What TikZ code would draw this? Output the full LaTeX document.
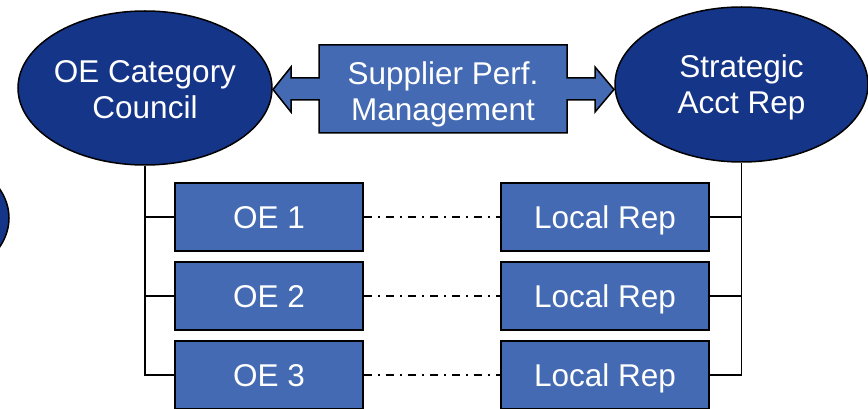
\documentclass[tikz,border=0pt]{standalone}
\usepackage{fontspec}
\setmainfont{Liberation Sans}
\usetikzlibrary{shapes.geometric}
\definecolor{navy}{RGB}{21,53,136}
\definecolor{boxblue}{RGB}{67,106,178}
\begin{document}
\begin{tikzpicture}[x=1pt,y=-1pt,
  txt/.style={font=\fontsize{31.5}{36}\selectfont, text=white, align=center},
  oval/.style={ellipse, draw=black, line width=1.5pt, fill=navy, minimum width=254pt, minimum height=154pt, inner sep=0pt},
  unit/.style={rectangle, draw=black, line width=2pt, fill=boxblue, minimum height=68pt, inner sep=0pt, txt, text height=23pt, text depth=0pt},
  bus/.style={draw=black, line width=1.6pt},
  dotdash/.style={draw=black, line width=1.5pt, dash pattern=on 8pt off 6pt on 2pt off 6pt},
  arrowshape/.style={draw=black, line width=1.5pt, fill=boxblue, line join=miter}
]
\useasboundingbox (0,0) rectangle (868,409);
\begin{scope}
\clip (0,0) rectangle (868,409);
\node[oval] (ghost) at (-118,218) {};
\node[oval] (lc) at (145,88) {};
\node[txt] (lct) at (145,89.5) {OE Category\\Council};
\node[oval, minimum width=253pt, minimum height=155pt] (rc) at (741.5,84.5) {};
\node[txt] (rct) at (741.5,87.5) {Strategic\\Acct Rep};
% double arrow with central box
\draw[arrowshape] (319,45) -- (567,45) -- (567,78) -- (595,78) -- (595,67) -- (614,89.5)
  -- (595,112) -- (595,100) -- (567,100) -- (567,133) -- (319,133) -- (319,100)
  -- (291,100) -- (291,112) -- (273,89.5) -- (291,67) -- (291,78) -- (319,78) -- cycle;
\node[txt] (spm) at (443,94) {Supplier Perf.\\Management};
% OE boxes
\node[unit, minimum width=188pt] (oe1) at (269,217) {OE 1};
\node[unit, minimum width=188pt] (oe2) at (269,296) {OE 2};
\node[unit, minimum width=188pt] (oe3) at (269,375) {OE 3};
% Local reps
\node[unit, minimum width=208pt] (lr1) at (605,217) {Local Rep};
\node[unit, minimum width=208pt] (lr2) at (605,296) {Local Rep};
\node[unit, minimum width=208pt] (lr3) at (605,375) {Local Rep};
% buses
\draw[bus] (lc.south) -- (lc.south |- oe3.west) -- (oe3.west);
\draw[bus] (lc.south |- oe1.west) -- (oe1.west);
\draw[bus] (lc.south |- oe2.west) -- (oe2.west);
\draw[bus] (rc.south) -- (rc.south |- lr3.east) -- (lr3.east);
\draw[bus] (rc.south |- lr1.east) -- (lr1.east);
\draw[bus] (rc.south |- lr2.east) -- (lr2.east);
% dash-dot links
\draw[dotdash] (oe1.east) -- (lr1.west);
\draw[dotdash] (oe2.east) -- (lr2.west);
\draw[dotdash] (oe3.east) -- (lr3.west);
\end{scope}
\end{tikzpicture}
\end{document}
